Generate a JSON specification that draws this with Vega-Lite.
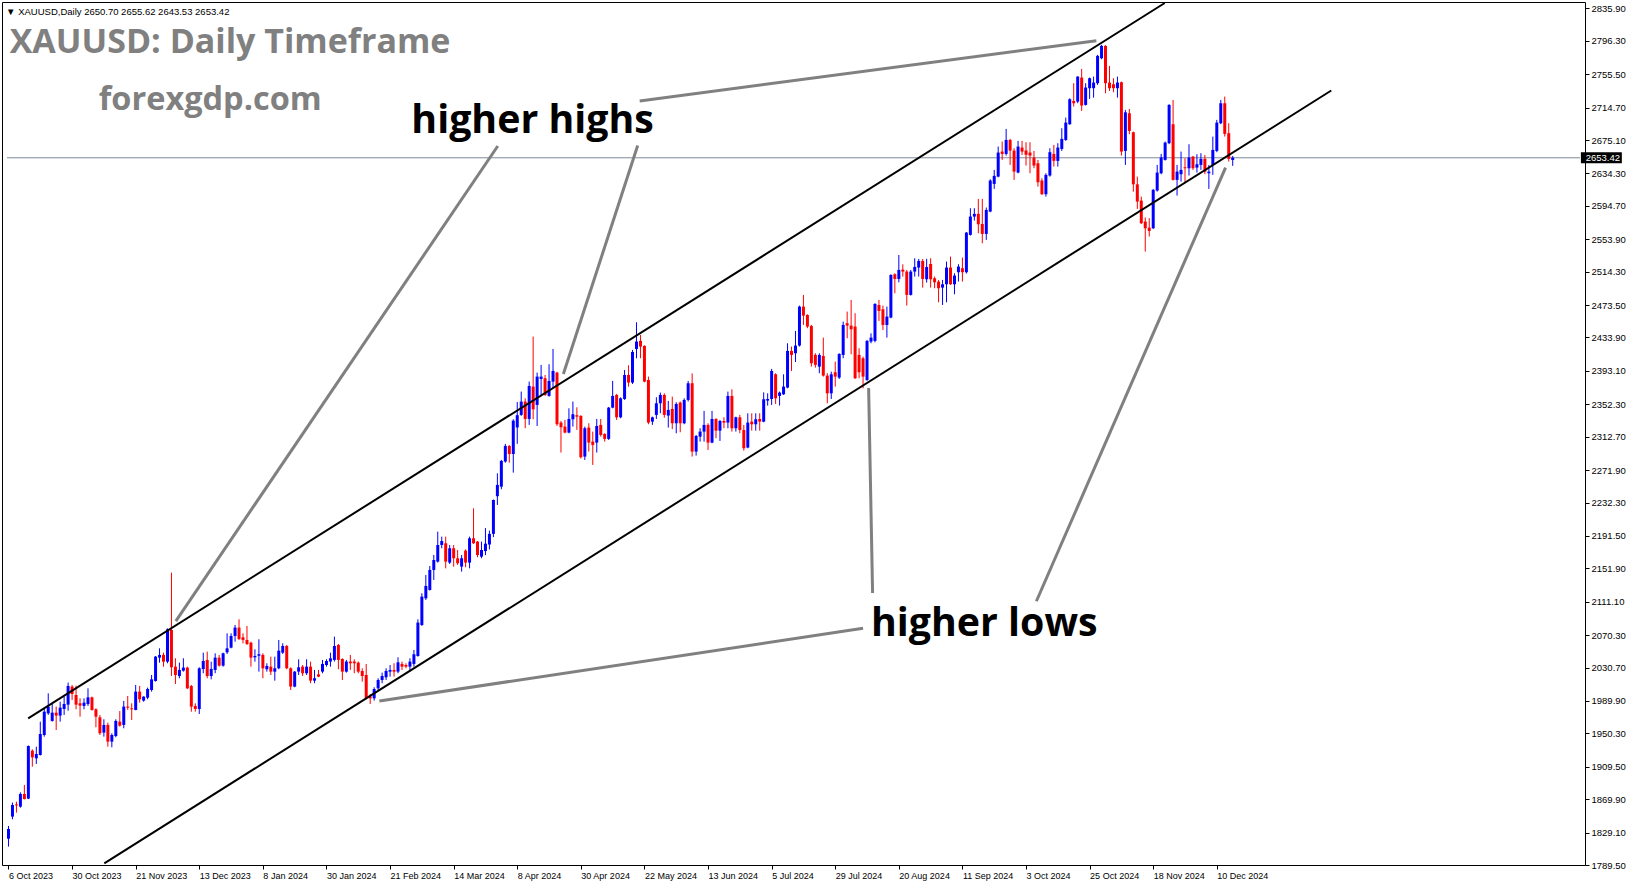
{
  "$schema": "https://vega.github.io/schema/vega-lite/v6.json",
  "width": 1583,
  "height": 863,
  "autosize": {"type": "none"},
  "padding": {"left": 2, "top": 2, "right": 46, "bottom": 23},
  "background": "#ffffff",
  "config": {
    "view": {"stroke": "#000000", "strokeWidth": 1},
    "axis": {"grid": false, "domain": false, "tickColor": "#000000", "labelColor": "#000000", "labelFont": "Liberation Sans", "labelOverlap": false, "labelFlush": false, "labelBound": false, "title": null}
  },
  "datasets": {
    "bars": [
      {"i":0,"o":1821.6,"h":1837.2,"l":1812,"c":1833.5},
      {"i":1,"o":1848.6,"h":1865.7,"l":1845.3,"c":1862.8},
      {"i":2,"o":1863.5,"h":1866.9,"l":1853.5,"c":1862.3},
      {"i":3,"o":1860.8,"h":1878.3,"l":1859.5,"c":1876.3},
      {"i":4,"o":1876.3,"h":1887.3,"l":1869.6,"c":1870.0},
      {"i":5,"o":1870.6,"h":1935.5,"l":1870,"c":1934.9},
      {"i":6,"o":1929.2,"h":1930.8,"l":1909.6,"c":1921},
      {"i":7,"o":1919.8,"h":1934,"l":1912.9,"c":1925.1},
      {"i":8,"o":1923.9,"h":1964.6,"l":1923.2,"c":1949.5},
      {"i":9,"o":1948.3,"h":1980.9,"l":1946.3,"c":1976.8},
      {"i":10,"o":1974.8,"h":1999.2,"l":1972.8,"c":1983},
      {"i":11,"o":1965.5,"h":1987,"l":1964.6,"c":1975.6},
      {"i":12,"o":1975.6,"h":1983,"l":1954.4,"c":1972},
      {"i":13,"o":1972,"h":1989,"l":1964.6,"c":1981.7},
      {"i":14,"o":1980.1,"h":1995.2,"l":1972.8,"c":1986.2},
      {"i":15,"o":1985.4,"h":2012.3,"l":1978,"c":2008.2},
      {"i":16,"o":2007.4,"h":2009.4,"l":1991.1,"c":1998.4},
      {"i":17,"o":1997.2,"h":2008.6,"l":1979.7,"c":1985.4},
      {"i":18,"o":1987,"h":1993.1,"l":1970.7,"c":1984.2},
      {"i":19,"o":1983.8,"h":1993.1,"l":1979.7,"c":1987.8},
      {"i":20,"o":1986.2,"h":2005.3,"l":1983.8,"c":1994.3},
      {"i":21,"o":1994.3,"h":1995.2,"l":1978.1,"c":1978.9},
      {"i":22,"o":1979.7,"h":1980.9,"l":1957.7,"c":1970.7},
      {"i":23,"o":1969.9,"h":1972.8,"l":1948.3,"c":1950.4},
      {"i":24,"o":1951.2,"h":1967.5,"l":1946.3,"c":1960.6},
      {"i":25,"o":1960.6,"h":1963.4,"l":1934.1,"c":1940.2},
      {"i":26,"o":1940.2,"h":1950.4,"l":1933.3,"c":1948.3},
      {"i":27,"o":1947.1,"h":1967.5,"l":1945.5,"c":1965.5},
      {"i":28,"o":1964.6,"h":1977.6,"l":1958.5,"c":1959.7},
      {"i":29,"o":1960.6,"h":1989.9,"l":1956.5,"c":1983},
      {"i":30,"o":1983,"h":1996,"l":1978.9,"c":1981.7},
      {"i":31,"o":1980.9,"h":1987,"l":1966.6,"c":1979.7},
      {"i":32,"o":1978.9,"h":2009.4,"l":1978.5,"c":2001.3},
      {"i":33,"o":2001.3,"h":2008.2,"l":1987.8,"c":1991.9},
      {"i":34,"o":1990.3,"h":1995.6,"l":1989,"c":1995.2},
      {"i":35,"o":1993.9,"h":2006.2,"l":1991.9,"c":2004.5},
      {"i":36,"o":2003.3,"h":2021.6,"l":2001.3,"c":2016.3},
      {"i":37,"o":2014.3,"h":2044.8,"l":2013.5,"c":2044},
      {"i":38,"o":2042.8,"h":2054.2,"l":2036.7,"c":2046.1},
      {"i":39,"o":2046.1,"h":2048.9,"l":2031.8,"c":2037.9},
      {"i":40,"o":2037.9,"h":2078.6,"l":2035.9,"c":2077.4},
      {"i":41,"o":2076.6,"h":2146.6,"l":2020.4,"c":2031},
      {"i":42,"o":2031.8,"h":2042,"l":2010.6,"c":2021.6},
      {"i":43,"o":2020.4,"h":2036.7,"l":2017.6,"c":2027.8},
      {"i":44,"o":2026.9,"h":2042,"l":2025.7,"c":2030.6},
      {"i":45,"o":2030.6,"h":2031.8,"l":2004.5,"c":2005.3},
      {"i":46,"o":2008.2,"h":2009.4,"l":1976.8,"c":1982.9},
      {"i":47,"o":1983.8,"h":1987,"l":1976.8,"c":1980.1},
      {"i":48,"o":1980.1,"h":2031,"l":1974,"c":2029.8},
      {"i":49,"o":2028.9,"h":2048.9,"l":2023.7,"c":2038.7},
      {"i":50,"o":2039.9,"h":2050.1,"l":2017.6,"c":2020.4},
      {"i":51,"o":2020.4,"h":2037.9,"l":2016.3,"c":2029},
      {"i":52,"o":2027.8,"h":2048.1,"l":2023.7,"c":2042.8},
      {"i":53,"o":2042.8,"h":2046.1,"l":2031.8,"c":2033},
      {"i":54,"o":2033,"h":2048.9,"l":2031.8,"c":2048.1},
      {"i":55,"o":2049.3,"h":2072.5,"l":2047.3,"c":2054.2},
      {"i":56,"o":2055,"h":2072.5,"l":2054.2,"c":2069.3},
      {"i":57,"o":2069.3,"h":2082.7,"l":2062.3,"c":2079.5},
      {"i":58,"o":2079.5,"h":2089.6,"l":2064.4,"c":2065.6},
      {"i":59,"o":2067.6,"h":2072.5,"l":2060.3,"c":2064.4},
      {"i":60,"o":2064.4,"h":2081.5,"l":2058.3,"c":2059.5},
      {"i":61,"o":2061.1,"h":2062.3,"l":2031.8,"c":2042.8},
      {"i":62,"o":2043.2,"h":2053,"l":2037.9,"c":2044.8},
      {"i":63,"o":2045.2,"h":2065.2,"l":2025.7,"c":2046.9},
      {"i":64,"o":2046.1,"h":2048.1,"l":2017.6,"c":2029.8},
      {"i":65,"o":2028.6,"h":2035.9,"l":2025.7,"c":2032.6},
      {"i":66,"o":2031.8,"h":2044,"l":2021.6,"c":2025.7},
      {"i":67,"o":2025.7,"h":2044,"l":2014.7,"c":2029.8},
      {"i":68,"o":2029.8,"h":2064.4,"l":2028.6,"c":2051.3},
      {"i":69,"o":2048.9,"h":2060.3,"l":2047.3,"c":2057},
      {"i":70,"o":2057,"h":2058.3,"l":2028.6,"c":2029.8},
      {"i":71,"o":2029.8,"h":2031,"l":2003.3,"c":2007.4},
      {"i":72,"o":2007.4,"h":2026.5,"l":2006.6,"c":2025.7},
      {"i":73,"o":2025.7,"h":2040.8,"l":2021.6,"c":2031},
      {"i":74,"o":2031.8,"h":2033.8,"l":2020.4,"c":2023.7},
      {"i":75,"o":2023.7,"h":2040.8,"l":2021.6,"c":2031.8},
      {"i":76,"o":2031.8,"h":2037.9,"l":2011.5,"c":2014.7},
      {"i":77,"o":2014.7,"h":2027.8,"l":2011.5,"c":2017.6},
      {"i":78,"o":2022.4,"h":2027.8,"l":2019,"c":2019.6},
      {"i":79,"o":2025.7,"h":2039.9,"l":2023.7,"c":2035.1},
      {"i":80,"o":2033.8,"h":2040.8,"l":2031.8,"c":2038.7},
      {"i":81,"o":2038,"h":2048.9,"l":2031.8,"c":2042},
      {"i":82,"o":2040,"h":2068.5,"l":2038,"c":2057},
      {"i":83,"o":2058.3,"h":2059.5,"l":2028.6,"c":2040},
      {"i":84,"o":2041.2,"h":2042,"l":2015.5,"c":2025.7},
      {"i":85,"o":2025.7,"h":2040,"l":2024.5,"c":2038},
      {"i":86,"o":2038,"h":2046.1,"l":2027.8,"c":2035.9},
      {"i":87,"o":2038,"h":2040.8,"l":2023.7,"c":2035.9},
      {"i":88,"o":2036.7,"h":2038,"l":2023.7,"c":2025.7},
      {"i":89,"o":2026.5,"h":2029.8,"l":2013.5,"c":2020.4},
      {"i":90,"o":2021.6,"h":2035.1,"l":1991.9,"c":1993.1},
      {"i":91,"o":1995.2,"h":1998.4,"l":1986.2,"c":1993.1},
      {"i":92,"o":1993.1,"h":2006.6,"l":1990.3,"c":2004.5},
      {"i":93,"o":2005.3,"h":2017.6,"l":2003.3,"c":2015.5},
      {"i":94,"o":2015.5,"h":2024.5,"l":2011.5,"c":2020.4},
      {"i":95,"o":2018.8,"h":2029.8,"l":2015.5,"c":2026.5},
      {"i":96,"o":2025.7,"h":2033.8,"l":2019.6,"c":2027.7},
      {"i":97,"o":2027.7,"h":2035.9,"l":2019.6,"c":2025.7},
      {"i":98,"o":2025.7,"h":2043.2,"l":2023.7,"c":2037.1},
      {"i":99,"o":2035.1,"h":2037.9,"l":2027.7,"c":2031.8},
      {"i":100,"o":2033.8,"h":2035.9,"l":2029.8,"c":2031.8},
      {"i":101,"o":2031.8,"h":2042,"l":2025.7,"c":2037.9},
      {"i":102,"o":2035.1,"h":2052.2,"l":2031.8,"c":2046.9},
      {"i":103,"o":2044.8,"h":2089.6,"l":2044,"c":2085.6},
      {"i":104,"o":2082.7,"h":2121.4,"l":2081.5,"c":2117.3},
      {"i":105,"o":2115.3,"h":2143.8,"l":2113.3,"c":2130.4},
      {"i":106,"o":2125.5,"h":2154.8,"l":2124.7,"c":2149.9},
      {"i":107,"o":2149.9,"h":2168.2,"l":2137.7,"c":2162.1},
      {"i":108,"o":2160.1,"h":2196.7,"l":2158.9,"c":2180.4},
      {"i":109,"o":2180.4,"h":2190.6,"l":2176.4,"c":2185.3},
      {"i":110,"o":2182.5,"h":2190.6,"l":2151.9,"c":2160.1},
      {"i":111,"o":2158.9,"h":2180.4,"l":2157.2,"c":2176.4},
      {"i":112,"o":2176.4,"h":2180.4,"l":2153.9,"c":2164.2},
      {"i":113,"o":2164.2,"h":2174.3,"l":2156,"c":2158.1},
      {"i":114,"o":2154,"h":2168.2,"l":2147.9,"c":2164.2},
      {"i":115,"o":2173.5,"h":2175.1,"l":2153.2,"c":2158.9},
      {"i":116,"o":2158.9,"h":2190.6,"l":2151.9,"c":2188.6},
      {"i":117,"o":2188.6,"h":2225.2,"l":2181.7,"c":2182.5},
      {"i":118,"o":2184.5,"h":2185.3,"l":2165.4,"c":2168.2},
      {"i":119,"o":2166.2,"h":2184.5,"l":2164.2,"c":2174.3},
      {"i":120,"o":2173,"h":2201,"l":2168,"c":2182},
      {"i":121,"o":2181,"h":2198,"l":2175,"c":2194},
      {"i":122,"o":2194,"h":2236,"l":2190,"c":2235.4},
      {"i":123,"o":2240,"h":2268,"l":2229.3,"c":2253.8},
      {"i":124,"o":2251.7,"h":2284.3,"l":2248.5,"c":2283.1},
      {"i":125,"o":2282.3,"h":2303.9,"l":2281,"c":2301.4},
      {"i":126,"o":2301.4,"h":2302.6,"l":2281,"c":2291.6},
      {"i":127,"o":2291.6,"h":2334,"l":2268.8,"c":2332.3},
      {"i":128,"o":2324,"h":2355,"l":2304,"c":2339},
      {"i":129,"o":2339.3,"h":2367.8,"l":2338.1,"c":2355.6},
      {"i":130,"o":2355.6,"h":2359.6,"l":2323,"c":2334.4},
      {"i":131,"o":2334.4,"h":2380,"l":2327.1,"c":2374.7},
      {"i":132,"o":2373.9,"h":2435,"l":2334,"c":2346.2},
      {"i":133,"o":2351.5,"h":2391,"l":2325.8,"c":2386.1},
      {"i":134,"o":2383.2,"h":2400.4,"l":2362.5,"c":2386.1},
      {"i":135,"o":2384.1,"h":2388.1,"l":2362.5,"c":2363.7},
      {"i":136,"o":2362.5,"h":2401.2,"l":2361.5,"c":2380.8},
      {"i":137,"o":2380,"h":2419.9,"l":2371.8,"c":2393},
      {"i":138,"o":2391,"h":2392,"l":2325.8,"c":2327.9},
      {"i":139,"o":2329.9,"h":2331.9,"l":2293.3,"c":2324.2},
      {"i":140,"o":2325,"h":2333.2,"l":2316.9,"c":2317.7},
      {"i":141,"o":2317.7,"h":2347.4,"l":2316.9,"c":2334.4},
      {"i":142,"o":2334,"h":2355.6,"l":2325,"c":2340.1},
      {"i":143,"o":2338.9,"h":2348.6,"l":2321,"c":2337.2},
      {"i":144,"o":2338.1,"h":2338.9,"l":2286,"c":2287.6},
      {"i":145,"o":2288.4,"h":2325,"l":2284.3,"c":2323},
      {"i":146,"o":2323.8,"h":2329.1,"l":2294.5,"c":2305.5},
      {"i":147,"o":2306.7,"h":2318.9,"l":2278.2,"c":2302.6},
      {"i":148,"o":2305.5,"h":2334.4,"l":2293.3,"c":2325.8},
      {"i":149,"o":2327.1,"h":2334.4,"l":2312.8,"c":2314.8},
      {"i":150,"o":2316.1,"h":2316.9,"l":2306.7,"c":2310},
      {"i":151,"o":2310,"h":2349,"l":2308.7,"c":2348.2},
      {"i":152,"o":2348.2,"h":2380.8,"l":2347.4,"c":2362.5},
      {"i":153,"o":2363.7,"h":2364.9,"l":2333.2,"c":2336.4},
      {"i":154,"o":2336.4,"h":2360.8,"l":2335.2,"c":2359.6},
      {"i":155,"o":2358.8,"h":2394.2,"l":2357.6,"c":2388.1},
      {"i":156,"o":2388.1,"h":2399.9,"l":2373.9,"c":2378.8},
      {"i":157,"o":2378.8,"h":2418.7,"l":2377.1,"c":2416.2},
      {"i":158,"o":2419.9,"h":2452.5,"l":2408.5,"c":2428.9},
      {"i":159,"o":2429.7,"h":2437,"l":2408.5,"c":2422.8},
      {"i":160,"o":2423.6,"h":2424.4,"l":2379.2,"c":2380},
      {"i":161,"o":2382,"h":2386.1,"l":2327.9,"c":2329.9},
      {"i":162,"o":2331.1,"h":2337.2,"l":2327.1,"c":2336.4},
      {"i":163,"o":2339.3,"h":2360.9,"l":2334.4,"c":2353.5},
      {"i":164,"o":2353.5,"h":2366.6,"l":2341.3,"c":2363.7},
      {"i":165,"o":2363.7,"h":2365.7,"l":2336,"c":2339.3},
      {"i":166,"o":2338.5,"h":2356.4,"l":2323.8,"c":2345.4},
      {"i":167,"o":2346.6,"h":2361.7,"l":2322,"c":2329.1},
      {"i":168,"o":2329.1,"h":2354.8,"l":2316.9,"c":2352.7},
      {"i":169,"o":2354.4,"h":2355.6,"l":2318.1,"c":2329.1},
      {"i":170,"o":2329.1,"h":2359.6,"l":2327.9,"c":2357.6},
      {"i":171,"o":2357.6,"h":2380.8,"l":2355.6,"c":2378},
      {"i":172,"o":2378,"h":2390,"l":2288.4,"c":2294.5},
      {"i":173,"o":2294.5,"h":2314.8,"l":2289.6,"c":2313.6},
      {"i":174,"o":2312.8,"h":2323,"l":2306.7,"c":2318.9},
      {"i":175,"o":2318.9,"h":2344.2,"l":2306.7,"c":2327.1},
      {"i":176,"o":2327.1,"h":2329.1,"l":2296.5,"c":2305.5},
      {"i":177,"o":2305.5,"h":2344.2,"l":2304.7,"c":2334.4},
      {"i":178,"o":2334.4,"h":2335.2,"l":2310.8,"c":2320.1},
      {"i":179,"o":2320.1,"h":2333.2,"l":2307.5,"c":2331.9},
      {"i":180,"o":2331.9,"h":2336.4,"l":2323,"c":2329.9},
      {"i":181,"o":2329.9,"h":2367.8,"l":2323,"c":2362.5},
      {"i":182,"o":2362.5,"h":2370.6,"l":2318.9,"c":2323},
      {"i":183,"o":2323,"h":2337.2,"l":2318.9,"c":2336.4},
      {"i":184,"o":2336.4,"h":2339.3,"l":2316.9,"c":2320.9},
      {"i":185,"o":2320.9,"h":2327.1,"l":2295.7,"c":2298.6},
      {"i":186,"o":2299.4,"h":2341.3,"l":2298.6,"c":2329.9},
      {"i":187,"o":2331.1,"h":2341.3,"l":2320.1,"c":2327.9},
      {"i":188,"o":2327.9,"h":2341.3,"l":2320.1,"c":2334},
      {"i":189,"o":2334.4,"h":2341.3,"l":2320.1,"c":2331.1},
      {"i":190,"o":2331.1,"h":2366.9,"l":2330.3,"c":2358.4},
      {"i":191,"o":2356.8,"h":2365.7,"l":2350.7,"c":2358.8},
      {"i":192,"o":2358.8,"h":2395.5,"l":2351.5,"c":2393},
      {"i":193,"o":2389,"h":2390.2,"l":2352.7,"c":2359.6},
      {"i":194,"o":2362.5,"h":2367.8,"l":2350.7,"c":2366.6},
      {"i":195,"o":2364.5,"h":2388.9,"l":2363.7,"c":2373.9},
      {"i":196,"o":2372.7,"h":2426.8,"l":2371.8,"c":2417.5},
      {"i":197,"o":2417.5,"h":2422.8,"l":2393,"c":2412.6},
      {"i":198,"o":2414.6,"h":2441.9,"l":2404,"c":2424},
      {"i":199,"o":2424,"h":2472.8,"l":2422.8,"c":2471.6},
      {"i":200,"o":2471.6,"h":2485.9,"l":2449.2,"c":2460.6},
      {"i":201,"o":2461.4,"h":2462.2,"l":2445.2,"c":2447.2},
      {"i":202,"o":2448,"h":2449.2,"l":2398.3,"c":2402.4},
      {"i":203,"o":2412.6,"h":2414.6,"l":2397.1,"c":2400.4},
      {"i":204,"o":2398.3,"h":2414.6,"l":2390.2,"c":2412.6},
      {"i":205,"o":2411.4,"h":2433.7,"l":2386.1,"c":2387.3},
      {"i":206,"o":2387.3,"h":2390.2,"l":2353.5,"c":2365.7},
      {"i":207,"o":2365.7,"h":2392.2,"l":2358.8,"c":2388.9},
      {"i":208,"o":2391.4,"h":2404.4,"l":2373.9,"c":2386.1},
      {"i":209,"o":2384.9,"h":2414.6,"l":2383.2,"c":2413.8},
      {"i":210,"o":2412.6,"h":2453.3,"l":2408.5,"c":2449.2},
      {"i":211,"o":2451.3,"h":2465.5,"l":2432.9,"c":2448.4},
      {"i":212,"o":2448.4,"h":2479.8,"l":2413.4,"c":2443.9},
      {"i":213,"o":2447.2,"h":2463.5,"l":2383.2,"c":2384.1},
      {"i":214,"o":2412.6,"h":2420.7,"l":2384.1,"c":2391.4},
      {"i":215,"o":2408.5,"h":2410.5,"l":2371.8,"c":2386.1},
      {"i":216,"o":2382,"h":2430.9,"l":2380.8,"c":2429.7},
      {"i":217,"o":2428.9,"h":2439,"l":2426.8,"c":2433.7},
      {"i":218,"o":2429.7,"h":2475.7,"l":2428,"c":2474.9},
      {"i":219,"o":2473.6,"h":2479.8,"l":2454.1,"c":2466.3},
      {"i":220,"o":2468.3,"h":2472.8,"l":2443.1,"c":2449.2},
      {"i":221,"o":2449.2,"h":2471.6,"l":2433.7,"c":2459.4},
      {"i":222,"o":2458.2,"h":2511.1,"l":2457.4,"c":2510.3},
      {"i":223,"o":2511.1,"h":2512.3,"l":2487.9,"c":2505.4},
      {"i":224,"o":2505.4,"h":2534.7,"l":2501.3,"c":2516.4},
      {"i":225,"o":2516.8,"h":2523.3,"l":2508.3,"c":2514.4},
      {"i":226,"o":2514.4,"h":2516.4,"l":2472.8,"c":2485.9},
      {"i":227,"o":2485.9,"h":2516.4,"l":2485.1,"c":2514.4},
      {"i":228,"o":2514.4,"h":2530.7,"l":2508.3,"c":2520.1},
      {"i":229,"o":2519.3,"h":2529.8,"l":2508.3,"c":2527.4},
      {"i":230,"o":2527.4,"h":2529.8,"l":2494.8,"c":2505.4},
      {"i":231,"o":2505,"h":2530,"l":2501,"c":2520},
      {"i":232,"o":2523.7,"h":2530.7,"l":2494.8,"c":2505},
      {"i":233,"o":2506.2,"h":2508.3,"l":2494,"c":2501.3},
      {"i":234,"o":2502.1,"h":2504.2,"l":2476.9,"c":2494},
      {"i":235,"o":2494.8,"h":2504.2,"l":2473.6,"c":2498.9},
      {"i":236,"o":2498.9,"h":2526.6,"l":2476.9,"c":2519.3},
      {"i":237,"o":2519.3,"h":2532.7,"l":2498.1,"c":2498.9},
      {"i":238,"o":2498.9,"h":2512.3,"l":2486.7,"c":2509.5},
      {"i":239,"o":2513.6,"h":2523.4,"l":2502.2,"c":2520.5},
      {"i":240,"o":2518.5,"h":2531.5,"l":2502.2,"c":2513.6},
      {"i":241,"o":2513.6,"h":2562.8,"l":2512,"c":2562},
      {"i":242,"o":2559.2,"h":2591.8,"l":2558.4,"c":2581.6},
      {"i":243,"o":2581.6,"h":2591.8,"l":2576.7,"c":2584.9},
      {"i":244,"o":2584.9,"h":2603.2,"l":2561.2,"c":2572.2},
      {"i":245,"o":2572.6,"h":2603.2,"l":2549,"c":2560.4},
      {"i":246,"o":2560.4,"h":2592.6,"l":2553.1,"c":2589.7},
      {"i":247,"o":2587.7,"h":2627.2,"l":2586.9,"c":2625.6},
      {"i":248,"o":2621.5,"h":2638.6,"l":2615.4,"c":2631.3},
      {"i":249,"o":2630.4,"h":2667.1,"l":2629.6,"c":2659.8},
      {"i":250,"o":2661,"h":2673.2,"l":2650.8,"c":2658.1},
      {"i":251,"o":2658.1,"h":2688.7,"l":2656.1,"c":2675.2},
      {"i":252,"o":2675.2,"h":2676.5,"l":2644.7,"c":2662.2},
      {"i":253,"o":2662.2,"h":2665.1,"l":2626.4,"c":2636.5},
      {"i":254,"o":2635.3,"h":2674,"l":2634.5,"c":2667.1},
      {"i":255,"o":2665.9,"h":2674,"l":2656.9,"c":2661},
      {"i":256,"o":2662.2,"h":2672.4,"l":2643.9,"c":2657},
      {"i":257,"o":2659.8,"h":2672.4,"l":2634.5,"c":2656.1},
      {"i":258,"o":2653.7,"h":2661.8,"l":2640.6,"c":2643.9},
      {"i":259,"o":2646.7,"h":2650.8,"l":2618.2,"c":2623.5},
      {"i":260,"o":2625.6,"h":2628.4,"l":2608,"c":2608.9},
      {"i":261,"o":2608.9,"h":2634.5,"l":2606,"c":2632.5},
      {"i":262,"o":2631.7,"h":2665.1,"l":2630.4,"c":2660.2},
      {"i":263,"o":2658.1,"h":2669.1,"l":2642.7,"c":2649.6},
      {"i":264,"o":2649.6,"h":2671.2,"l":2642.7,"c":2665.9},
      {"i":265,"o":2664.2,"h":2689.5,"l":2661.8,"c":2676.5},
      {"i":266,"o":2675.2,"h":2702.5,"l":2674,"c":2696.4},
      {"i":267,"o":2694.4,"h":2726.1,"l":2693.6,"c":2724.9},
      {"i":268,"o":2722.9,"h":2744.5,"l":2716,"c":2720},
      {"i":269,"o":2722,"h":2753,"l":2720,"c":2752.6},
      {"i":270,"o":2751.4,"h":2762,"l":2710.7,"c":2717.2},
      {"i":271,"o":2718,"h":2744.5,"l":2717.2,"c":2739.2},
      {"i":272,"o":2738.4,"h":2751.4,"l":2725.3,"c":2750.6},
      {"i":273,"o":2738.4,"h":2752.6,"l":2726.9,"c":2745.3},
      {"i":274,"o":2744.5,"h":2779.1,"l":2742.4,"c":2777.9},
      {"i":275,"o":2775,"h":2791.3,"l":2773.8,"c":2790.1},
      {"i":276,"o":2790.1,"h":2790.9,"l":2732.2,"c":2744.5},
      {"i":277,"o":2745.3,"h":2765.6,"l":2735.1,"c":2738.4},
      {"i":278,"o":2743.2,"h":2750.6,"l":2733.5,"c":2738.4},
      {"i":279,"o":2738.4,"h":2752.6,"l":2726.9,"c":2745.3},
      {"i":280,"o":2745.7,"h":2746.5,"l":2656.1,"c":2661},
      {"i":281,"o":2661.8,"h":2711.9,"l":2644.7,"c":2709},
      {"i":282,"o":2707.8,"h":2713.1,"l":2682.2,"c":2686.2},
      {"i":283,"o":2684.6,"h":2685.4,"l":2612,"c":2621},
      {"i":284,"o":2621,"h":2630.4,"l":2591,"c":2599.9},
      {"i":285,"o":2601.1,"h":2606,"l":2572.6,"c":2573.4},
      {"i":286,"o":2575.5,"h":2580.4,"l":2538.8,"c":2567.3},
      {"i":287,"o":2568.1,"h":2579.6,"l":2557.2,"c":2564},
      {"i":288,"o":2567.3,"h":2615.4,"l":2566.5,"c":2614.2},
      {"i":289,"o":2613.4,"h":2644.7,"l":2612.1,"c":2635.3},
      {"i":290,"o":2634.5,"h":2658.1,"l":2633.3,"c":2653.7},
      {"i":291,"o":2650.8,"h":2673.2,"l":2650,"c":2672},
      {"i":292,"o":2671.2,"h":2718.8,"l":2670,"c":2718},
      {"i":293,"o":2694.4,"h":2724.1,"l":2625.6,"c":2626.4},
      {"i":294,"o":2626.4,"h":2644.7,"l":2607.2,"c":2636.5},
      {"i":295,"o":2633.3,"h":2661,"l":2624.3,"c":2638.6},
      {"i":296,"o":2641.8,"h":2652.9,"l":2623.1,"c":2640.6},
      {"i":297,"o":2640.6,"h":2669.9,"l":2631.7,"c":2653.7},
      {"i":298,"o":2654.9,"h":2655.5,"l":2638.6,"c":2640.6},
      {"i":299,"o":2641.4,"h":2657.7,"l":2635.3,"c":2645.5},
      {"i":300,"o":2644.7,"h":2659,"l":2638.6,"c":2652.1},
      {"i":301,"o":2652.1,"h":2656.9,"l":2633.3,"c":2636.5},
      {"i":302,"o":2634.5,"h":2644.7,"l":2615.4,"c":2636.5},
      {"i":303,"o":2644.7,"h":2679.3,"l":2632.5,"c":2663},
      {"i":304,"o":2661.8,"h":2699.7,"l":2660.2,"c":2696.4},
      {"i":305,"o":2695.6,"h":2724.1,"l":2694.4,"c":2720},
      {"i":306,"o":2720,"h":2728.2,"l":2679.3,"c":2682.6},
      {"i":307,"o":2683.4,"h":2695.6,"l":2648.8,"c":2652.1},
      {"i":308,"o":2650.7,"h":2655.62,"l":2643.53,"c":2653.42}
    ]
  },
  "layer": [
    {
      "data": {"values": [{"i": -0.375, "i2": 395.375, "p": 2653.42}]},
      "mark": {"type": "rule", "color": "#7d8b99", "strokeWidth": 1},
      "encoding": {
        "x": {
          "field": "i", "type": "quantitative",
          "scale": {"domain": [-0.375, 395.375], "nice": false, "zero": false},
          "axis": {
            "title": null,
            "orient": "bottom",
            "values": [0,16,32,48,64,80,96,112,128,144,160,176,192,208,224,240,256,272,288,304],
            "tickCount": 200,
            "labelExpr": "['6 Oct 2023','30 Oct 2023','21 Nov 2023','13 Dec 2023','8 Jan 2024','30 Jan 2024','21 Feb 2024','14 Mar 2024','8 Apr 2024','30 Apr 2024','22 May 2024','13 Jun 2024','5 Jul 2024','29 Jul 2024','20 Aug 2024','11 Sep 2024','3 Oct 2024','25 Oct 2024','18 Nov 2024','10 Dec 2024'][round(datum.value/16)]",
            "tickSize": 4,
            "labelAlign": "left",
            "labelBaseline": "top",
            "labelPadding": 2,
            "labelFontSize": 9,
            "labelOverlap": false,
            "labelFlush": false,
            "labelBound": false
          }
        },
        "x2": {"field": "i2"},
        "y": {
          "field": "p", "type": "quantitative",
          "scale": {"domain": [1789.5, 2843.7], "nice": false, "zero": false},
          "axis": {
            "title": null,
            "orient": "right",
            "values": [1789.5,1829.1,1869.9,1909.5,1950.3,1989.9,2030.7,2070.3,2111.1,2151.9,2191.5,2232.3,2271.9,2312.7,2352.3,2393.1,2433.9,2473.5,2514.3,2553.9,2594.7,2634.3,2675.1,2714.7,2755.5,2796.3,2835.9],
            "tickCount": 200,
            "format": ".2f",
            "tickSize": 4,
            "labelPadding": 2,
            "labelFontSize": 9.5,
            "labelOverlap": false,
            "labelFlush": false,
            "labelBound": false
          }
        }
      }
    },
    {
      "data": {"name": "bars"},
      "mark": {"type": "rule", "strokeWidth": 1},
      "encoding": {
        "x": {"field": "i", "type": "quantitative"},
        "y": {"field": "l", "type": "quantitative"},
        "y2": {"field": "h"},
        "color": {"condition": {"test": "datum.c >= datum.o", "value": "#0000ff"}, "value": "#ff0000"}
      }
    },
    {
      "data": {"name": "bars"},
      "mark": {"type": "bar", "orient": "vertical", "width": 3},
      "encoding": {
        "x": {"field": "i", "type": "quantitative"},
        "y": {"field": "o", "type": "quantitative"},
        "y2": {"field": "c"},
        "color": {"condition": {"test": "datum.c >= datum.o", "value": "#0000ff"}, "value": "#ff0000"}
      }
    },
    {
      "data": {"values": [
        {"i": 4.95, "p": 1968.7, "i2": 290.9, "p2": 2842.5},
        {"i": 24.1, "p": 1791.5, "i2": 332.8, "p2": 2735.6}
      ]},
      "mark": {"type": "rule", "color": "#000000", "strokeWidth": 2, "clip": true},
      "encoding": {
        "x": {"field": "i", "type": "quantitative"},
        "y": {"field": "p", "type": "quantitative"},
        "x2": {"field": "i2"},
        "y2": {"field": "p2"}
      }
    },
    {
      "data": {"values": [
        {"i": 42.1, "p": 2087.5, "i2": 123.1, "p2": 2667.8},
        {"i": 139.6, "p": 2389.3, "i2": 158.3, "p2": 2668.3},
        {"i": 158.8, "p": 2722.9, "i2": 273.7, "p2": 2796.4},
        {"i": 93.3, "p": 1989.8, "i2": 215.0, "p2": 2078.6},
        {"i": 216.4, "p": 2372.2, "i2": 217.4, "p2": 2121.7},
        {"i": 306.2, "p": 2641.3, "i2": 258.6, "p2": 2111.7}
      ]},
      "mark": {"type": "rule", "color": "#808080", "strokeWidth": 3},
      "encoding": {
        "x": {"field": "i", "type": "quantitative"},
        "y": {"field": "p", "type": "quantitative"},
        "x2": {"field": "i2"},
        "y2": {"field": "p2"}
      }
    },
    {
      "data": {"values": [{"t": "XAUUSD: Daily Timeframe", "i": 0.3, "p": 2781.0}]},
      "mark": {"type": "text", "font": "Open Sans", "fontWeight": "bold", "fontSize": 34, "color": "#808080", "align": "left", "baseline": "alphabetic"},
      "encoding": {
        "x": {"field": "i", "type": "quantitative"},
        "y": {"field": "p", "type": "quantitative"},
        "text": {"field": "t"}
      }
    },
    {
      "data": {"values": [{"t": "forexgdp.com", "i": 22.7, "p": 2711.8}]},
      "mark": {"type": "text", "font": "Open Sans", "fontWeight": "bold", "fontSize": 32.5, "color": "#808080", "align": "left", "baseline": "alphabetic"},
      "encoding": {
        "x": {"field": "i", "type": "quantitative"},
        "y": {"field": "p", "type": "quantitative"},
        "text": {"field": "t"}
      }
    },
    {
      "data": {"values": [
        {"t": "higher highs", "i": 101.35, "p": 2683.7},
        {"t": "higher lows", "i": 217.0, "p": 2069.7}
      ]},
      "mark": {"type": "text", "font": "Open Sans", "fontWeight": "bold", "fontSize": 39.3, "color": "#000000", "align": "left", "baseline": "alphabetic"},
      "encoding": {
        "x": {"field": "i", "type": "quantitative"},
        "y": {"field": "p", "type": "quantitative"},
        "text": {"field": "t"}
      }
    },
    {
      "data": {"values": [{"t": "▼ XAUUSD,Daily  2650.70 2655.62 2643.53 2653.42", "i": -0.6, "p": 2828.4}]},
      "mark": {"type": "text", "font": "Liberation Sans", "fontSize": 9.5, "color": "#000000", "align": "left", "baseline": "alphabetic"},
      "encoding": {
        "x": {"field": "i", "type": "quantitative"},
        "y": {"field": "p", "type": "quantitative"},
        "text": {"field": "t"}
      }
    },
    {
      "data": {"values": [{"i": 395.6, "i2": 405.9, "p": 2653.42}]},
      "mark": {"type": "rule", "color": "#000000", "strokeWidth": 11, "strokeCap": "butt"},
      "encoding": {
        "x": {"field": "i", "type": "quantitative"},
        "x2": {"field": "i2"},
        "y": {"field": "p", "type": "quantitative"}
      }
    },
    {
      "data": {"values": [{"t": "2653.42", "i": 396.8, "p": 2653.42}]},
      "mark": {"type": "text", "font": "Liberation Sans", "fontSize": 9.5, "color": "#ffffff", "align": "left", "baseline": "middle"},
      "encoding": {
        "x": {"field": "i", "type": "quantitative"},
        "y": {"field": "p", "type": "quantitative"},
        "text": {"field": "t"}
      }
    }
  ]
}
